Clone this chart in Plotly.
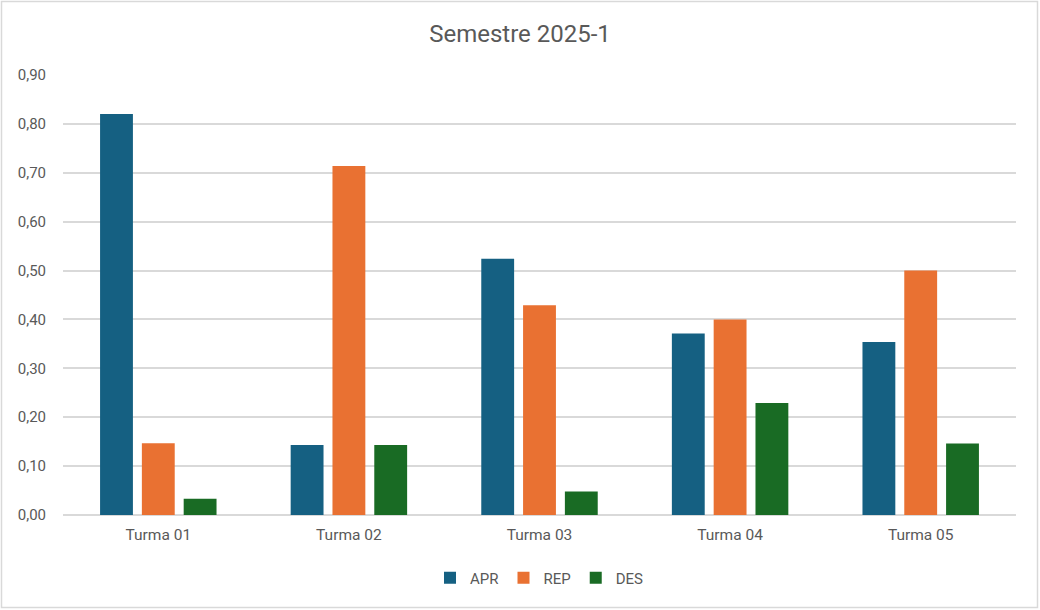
import plotly.graph_objects as go

categories = ["Turma 01", "Turma 02", "Turma 03", "Turma 04", "Turma 05"]
apr = [0.820, 0.143, 0.524, 0.371, 0.354]
rep = [0.147, 0.714, 0.429, 0.400, 0.500]
des = [0.033, 0.143, 0.048, 0.229, 0.146]
y_ticks = [0.0, 0.1, 0.2, 0.3, 0.4, 0.5, 0.6, 0.7, 0.8, 0.9]

W, H = 1040, 610
ML, MR, MT, MB = 63, 24, 75, 95
PW, PH = W - ML - MR, H - MT - MB

fig = go.Figure()
for name, vals, col in [("APR", apr, "#156082"), ("REP", rep, "#E97132"), ("DES", des, "#196B24")]:
    fig.add_trace(go.Bar(name=name, x=categories, y=vals, marker_color=col, marker_line_width=0))

def px_x(x):
    return (x - ML) / PW

def px_y(y):
    return (H - MB - y) / PH

fig.add_shape(type="rect", xref="paper", yref="paper",
              x0=px_x(1.5), x1=px_x(1037.5), y0=px_y(607.5), y1=px_y(1.5),
              line=dict(color="#D9D9D9", width=1.5), layer="below")

font_family = "Roboto, 'Open Sans', sans-serif"
fig.update_layout(
    width=W, height=H,
    margin=dict(l=ML, r=MR, t=MT, b=MB),
    paper_bgcolor="white", plot_bgcolor="white",
    barmode="group", bargap=0.342, bargroupgap=0.214,
    separators=",.",
    font=dict(family=font_family, color="#595959", size=15),
    title=dict(text="Semestre 2025-1", x=0.5, xanchor="center", y=1 - 34 / H, yanchor="middle",
               font=dict(size=24, color="#595959", family=font_family)),
    legend=dict(orientation="h", x=0.5, xanchor="center", y=px_y(578), yanchor="middle",
                font=dict(size=15, color="#595959"), itemwidth=30, traceorder="normal"),
    showlegend=True,
)
fig.update_yaxes(range=[0, 0.9], tickvals=y_ticks, tickformat=".2f", showgrid=True,
                 gridcolor="#D9D9D9", gridwidth=1.6, zeroline=True, zerolinecolor="#D9D9D9",
                 zerolinewidth=1.6, showline=False, ticks="", ticklabelstandoff=16,
                 tickfont=dict(size=15, color="#595959"))
fig.update_xaxes(showgrid=False, showline=False, ticks="", ticklabelstandoff=8,
                 tickfont=dict(size=15.5, color="#595959"))

fig.write_html("out.html", config={"displayModeBar": False},
               post_script="document.body.style.margin='0';")
